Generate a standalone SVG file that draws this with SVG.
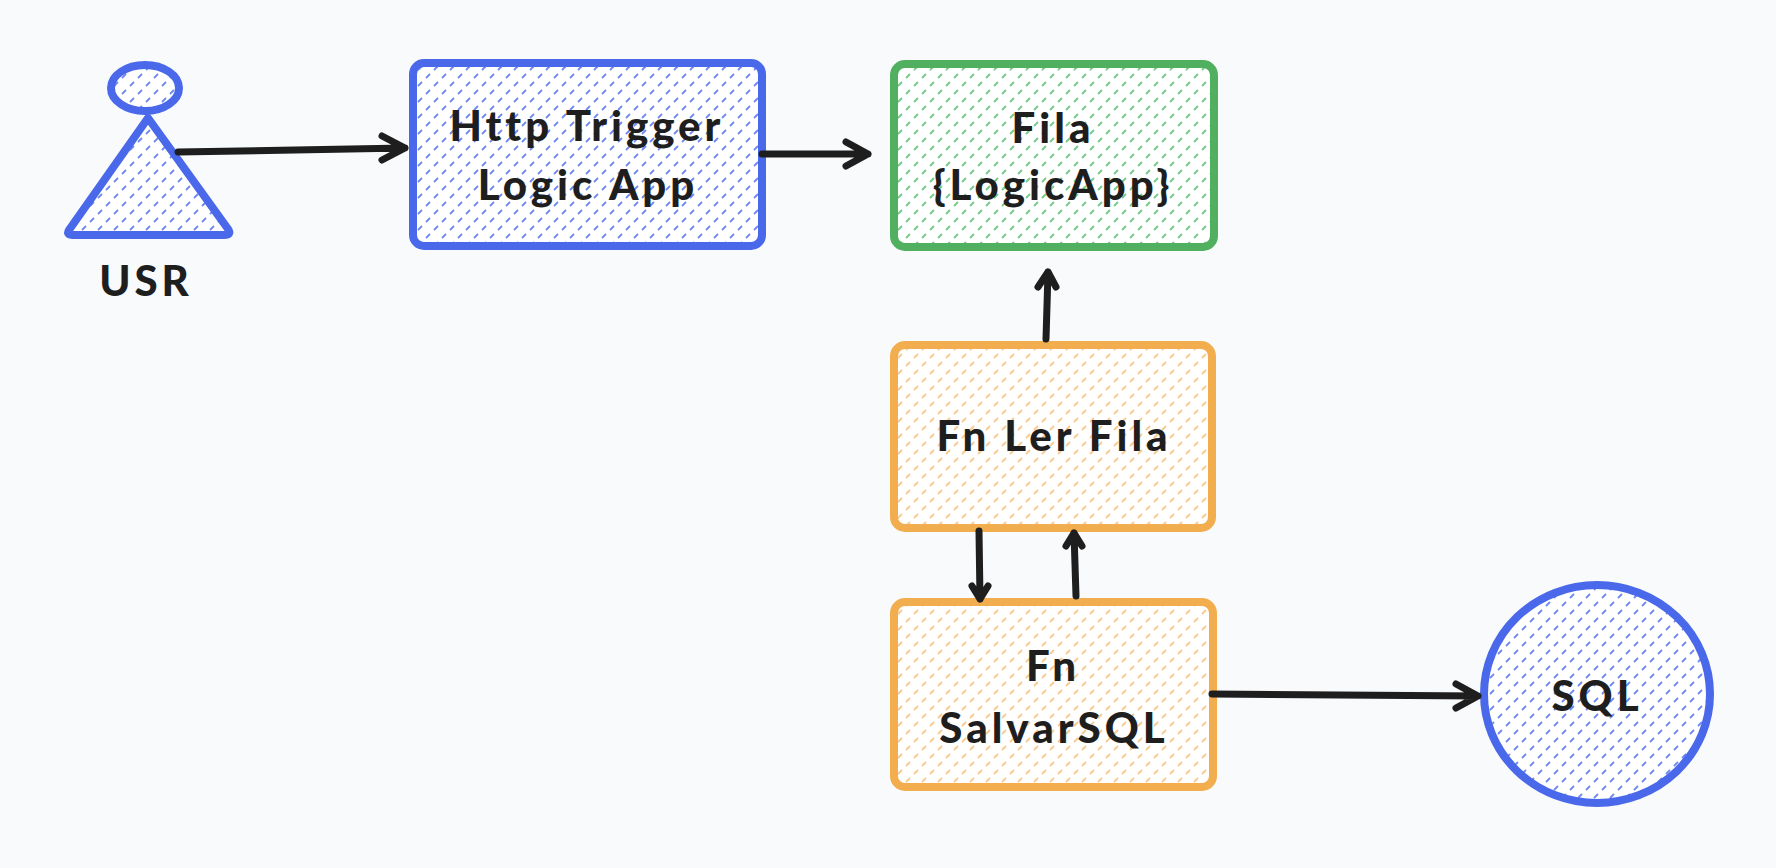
<svg xmlns="http://www.w3.org/2000/svg" width="1776" height="868" viewBox="0 0 1776 868">
<style>
.bg{fill:#f9fafc}
.blue{fill:url(#hb);stroke:#4a69ea;stroke-linejoin:round}
.green{fill:url(#hg);stroke:#50b060;stroke-linejoin:round}
.orange{fill:url(#ho);stroke:#f2ad4e;stroke-linejoin:round}
.t{font-family:"Lato","Noto Sans",sans-serif;font-weight:900;font-size:42px;fill:#1e1e1e;text-anchor:middle;letter-spacing:4px}
.c{fill:none;stroke:#1e1e1e;stroke-width:7;stroke-linecap:round;stroke-linejoin:round}
</style>
<defs>
<pattern id="hb" width="16" height="16" patternUnits="userSpaceOnUse"><rect width="16" height="16" fill="#fff"/><path d="M2.5 5.5l3-3M10.5 13.5l3-3" stroke="#6f89f2" stroke-width="1.8" stroke-linecap="round"/></pattern>
<pattern id="hg" width="16" height="16" patternUnits="userSpaceOnUse"><rect width="16" height="16" fill="#fff"/><path d="M2.5 5.5l3-3M10.5 13.5l3-3" stroke="#72cc84" stroke-width="1.8" stroke-linecap="round"/></pattern>
<pattern id="ho" width="16" height="16" patternUnits="userSpaceOnUse"><rect width="16" height="16" fill="#fff"/><path d="M2.5 5.5l3-3M10.5 13.5l3-3" stroke="#fbc98c" stroke-width="1.8" stroke-linecap="round"/></pattern>
</defs>
<rect class="bg" width="1776" height="868"/>
<g id="usr">
<ellipse class="blue" cx="145" cy="88" rx="34" ry="23" stroke-width="8"/>
<path class="blue" d="M148 118 L69 230 Q66 235 73 235 L224 235 Q232 235 228 229 Z" stroke-width="8"/>
<text class="t" x="146" y="296">USR</text>
</g>
<g id="http-trigger">
<rect class="blue" x="413" y="63" width="349" height="183" rx="11" stroke-width="8"/>
<text class="t" x="587" y="141">Http Trigger</text>
<text class="t" x="588" y="200">Logic App</text>
</g>
<g id="fila">
<rect class="green" x="894" y="64" width="320" height="183" rx="11" stroke-width="8"/>
<text class="t" x="1053" y="143">Fila</text>
<text class="t" x="1053" y="200">{LogicApp}</text>
</g>
<g id="fn-ler-fila">
<rect class="orange" x="894" y="345" width="318" height="183" rx="11" stroke-width="8"/>
<text class="t" x="1054" y="451">Fn Ler Fila</text>
</g>
<g id="fn-salvarsql">
<rect class="orange" x="894" y="602" width="319" height="185" rx="11" stroke-width="8"/>
<text class="t" x="1053" y="681">Fn</text>
<text class="t" x="1054" y="743">SalvarSQL</text>
</g>
<g id="sql">
<ellipse class="blue" cx="1597" cy="694" rx="113" ry="109" stroke-width="8"/>
<text class="t" x="1597" y="711">SQL</text>
</g>
<g id="connectors">
<path class="c" d="M178 152 L405 148 M382 136 L405 148 L382 160"/>
<path class="c" d="M762 154 L868 154 M846 142 L868 154 L846 166"/>
<path class="c" d="M1046 339 L1048 272 M1038 287 L1048 272 L1056 287"/>
<path class="c" d="M979 531 L980 599 M972 586 L980 599 L988 586"/>
<path class="c" d="M1076 596 L1074 533 M1066 546 L1074 533 L1082 546"/>
<path class="c" d="M1212 694 L1478 696 M1456 684 L1478 696 L1456 708"/>
</g>
</svg>
